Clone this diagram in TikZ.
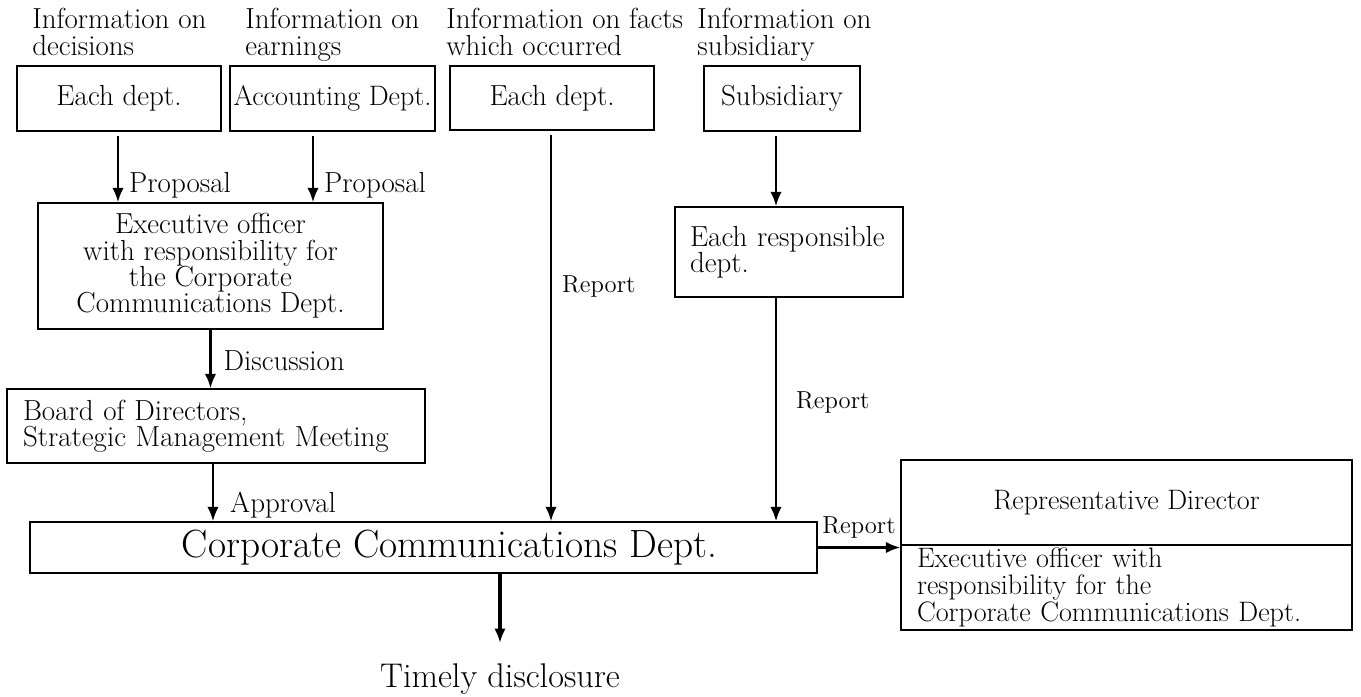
\documentclass[tikz,border=0pt]{standalone}
\usepackage{fontspec}
\usepackage{tikz}
\usetikzlibrary{arrows.meta}

\begin{document}
\begin{tikzpicture}[x=0.02cm, y=-0.02cm, >={Latex[length=0.29cm, width=0.23cm]},
    box/.style={draw, line width=0.8pt, inner xsep=1pt, inner ysep=2pt, font=\fontsize{16.5pt}{15pt}\selectfont},
    lbl/.style={font=\fontsize{16.5pt}{15.5pt}\selectfont, align=left, inner sep=0pt},
    arr/.style={->, line width=1.4pt},
    tag/.style={font=\fontsize{16.5pt}{16.5pt}\selectfont, inner sep=0pt},
    rtag/.style={font=\fontsize{14pt}{14pt}\selectfont, inner sep=0pt}]
    \useasboundingbox (0,0) rectangle (1361,696);

    % Information labels
    \node[lbl, anchor=north west] (lbldec) at (32,8) {Information on\\decisions};
    \node[lbl, anchor=north west] (lblearn) at (245,8) {Information on\\earnings};
    \node[lbl, anchor=north west] (lblfact) at (446,8) {Information on facts\\which occurred};
    \node[lbl, anchor=north west] (lblsubs) at (697,8) {Information on\\subsidiary};

    % Source boxes
    \node[box, minimum width=4.08cm, minimum height=1.30cm] (eachdec) at (119,98.5) {Each dept.};
    \node[box, minimum width=4.10cm, minimum height=1.30cm, inner xsep=0pt, font=\fontsize{16pt}{15pt}\selectfont] (acct) at (332.5,98.5) {Accounting Dept.};
    \node[box, minimum width=4.08cm, minimum height=1.28cm] (eachfact) at (552,98) {Each dept.};
    \node[box, minimum width=3.12cm, minimum height=1.30cm] (subs) at (782,98.5) {Subsidiary};

    % Middle boxes
    \node[box, minimum width=6.90cm, minimum height=2.52cm, align=center] (exec) at (210.5,266)
        {Executive officer\\with responsibility for\\the Corporate\\Communications Dept.};
    \node[box, inner xsep=0.32cm, text width=7.72cm, minimum height=1.48cm, align=left] (board) at (216,426)
        {Board of Directors,\\Strategic Management Meeting};
    \node[box, inner xsep=0.30cm, text width=3.96cm, minimum height=1.80cm, align=left] (resp) at (789,252)
        {Each responsible\\dept.};

    % Corporate Communications Dept.
    \node[box, minimum width=15.74cm, minimum height=1.02cm, font=\fontsize{22.4pt}{22.4pt}\selectfont] (ccd) at (423.5,547.5)
        {\hspace*{1.04cm}Corporate Communications Dept.};

    % Right boxes
    \node[box, minimum width=9.02cm, minimum height=1.70cm, font=\fontsize{16pt}{15pt}\selectfont] (repdir) at (1126.5,502.5)
        {Representative Director};
    \node[box, inner xsep=0.32cm, inner ysep=0pt, text width=8.38cm, minimum height=1.70cm, align=left,
        font=\fontsize{16pt}{15.5pt}\selectfont] (execofc) at (1126.5,587.5)
        {Executive officer with\\responsibility for the\\Corporate Communications Dept.};

    % Output
    \node[inner sep=0pt, font=\fontsize{19.5pt}{19.5pt}\selectfont, anchor=north] (disclose) at (500,663) {Timely disclosure};

    % Draw arrows
    \draw[arr, shorten <=0.08cm] ([xshift=-0.02cm]eachdec.south) -- ([xshift=-0.02cm]eachdec.south |- exec.north)
        node[tag, pos=0.76, anchor=west, xshift=0.2cm] {Proposal};
    \draw[arr, shorten <=0.08cm] ([xshift=-0.39cm]acct.south) -- ([xshift=-0.39cm]acct.south |- exec.north)
        node[tag, pos=0.76, anchor=west, xshift=0.2cm] {Proposal};
    \draw[arr] (exec.south) -- (exec.south |- board.north)
        node[tag, pos=0.53, anchor=west, xshift=0.24cm] {Discussion};
    \draw[arr] ([xshift=-0.06cm]board.south) -- ([xshift=-0.06cm]board.south |- ccd.north)
        node[tag, pos=0.72, anchor=west, xshift=0.32cm] {Approval};
    \draw[arr, shorten <=0.08cm] ([xshift=-0.02cm]eachfact.south) -- ([xshift=-0.02cm]eachfact.south |- ccd.north)
        node[rtag, pos=0.40, anchor=west, xshift=0.2cm] {Report};
    \draw[arr, shorten <=0.08cm] ([xshift=-0.12cm]subs.south) -- ([xshift=-0.12cm]subs.south |- resp.north);
    \draw[arr] ([xshift=-0.26cm]resp.south) -- ([xshift=-0.26cm]resp.south |- ccd.north)
        node[rtag, pos=0.47, anchor=west, xshift=0.38cm] {Report};
    \draw[arr] (ccd.east) -- (ccd.east -| repdir.west)
        node[rtag, midway, above, yshift=0.16cm] {Report};
    \draw[->, line width=2.2pt, shorten >=0.4cm] ([xshift=1.53cm]ccd.south) -- ([xshift=1.53cm]ccd.south |- disclose.north);
\end{tikzpicture}
\end{document}
